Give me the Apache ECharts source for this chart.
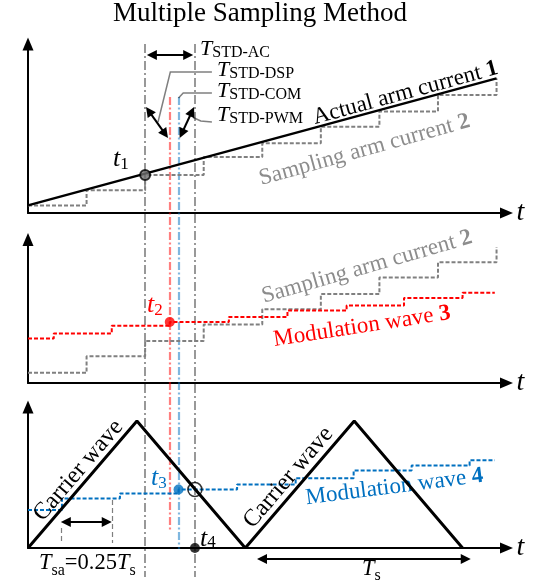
<!DOCTYPE html>
<html>
<head>
<meta charset="utf-8">
<script src="https://cdn.jsdelivr.net/npm/echarts@6/dist/echarts.min.js"></script>
<style>
  html, body { margin: 0; padding: 0; background: #fff; }
  #chart { width: 546px; height: 585px; }
</style>
</head>
<body>
<div id="chart"></div>
<script>
// ---- signal data (time in units of the sampling period Tsa, amplitude in p.u. of the carrier peak) ----
const sampleTimes = [0, 1, 2, 3, 4, 5, 6, 7, 8];
const actualTimes = [0, 8];
const actualCurrent = [0.06, 1.06];
const sampledCurrentTop = [0.06, 0.18, 0.30, 0.44, 0.55, 0.68, 0.80, 0.93, 1.06];
const sampledCurrentMid = [0.08, 0.21, 0.33, 0.46, 0.58, 0.70, 0.83, 0.95, 1.07];
const modulation3Times = [0, 0.44, 1.43, 2.42, 3.43, 4.43, 5.44, 6.42, 7.42, 7.97];
const modulation3 = [0.35, 0.39, 0.45, 0.48, 0.52, 0.57, 0.61, 0.67, 0.71, 0.71];
const carrierTimes = [0, 1.86, 3.71, 5.57, 7.42];
const carrier = [0, 1, 0, 1, 0];
const modulation4Times = [0, 0.58, 1.57, 2.57, 3.57, 4.57, 5.56, 6.55, 7.54, 7.97];
const modulation4 = [0.30, 0.39, 0.43, 0.46, 0.50, 0.55, 0.61, 0.65, 0.69, 0.69];

// characteristic instants
const t1 = 2.0;    // sampling instant
const t2 = 2.42;   // DSP result ready
const t3 = 2.57;   // communication done
const t4 = 2.85;   // PWM comparison
const tsaStart = 0.56, tsaEnd = 1.43;   // Tsa span marker
const tsStart = 3.91, tsEnd = 7.56;     // Ts span marker

// ---- layout ----
const FONT = '"Liberation Serif", "Times New Roman", serif';
const BLACK = '#000000', GREY = '#808080', GREY_TXT = '#8c8c8c', RED = '#ff0000', BLUE = '#0070c0';
const LEFT = 28, WIDTH = 478.5, X_MAX = 8.17;
const PX_PER_UNIT = 127;
const PX_X = WIDTH / X_MAX;
const panels = [
  { top: 44, height: 169 },
  { top: 239.5, height: 143.5 },
  { top: 407, height: 141 }
];

const pair = (xs, ys) => xs.map((x, i) => [x, ys[i]]);
const valueAt = (xs, ys, x) => ys[xs.indexOf(x)];

const axisArrow = {
  show: true,
  symbol: ['none', 'triangle'],
  symbolSize: [11, 13],
  lineStyle: { color: BLACK, width: 2 }
};

const grids = panels.map(p => ({ left: LEFT, width: WIDTH, top: p.top, height: p.height }));
grids.push({ left: LEFT, width: WIDTH, top: 0, height: 585 }); // annotation overlay

const xAxes = panels.map((p, i) => ({
  type: 'value', gridIndex: i, min: 0, max: X_MAX,
  axisLine: axisArrow, axisTick: { show: false }, axisLabel: { show: false }, splitLine: { show: false },
  name: 't', nameLocation: 'end', nameGap: 10,
  nameTextStyle: { fontFamily: FONT, fontStyle: 'italic', fontSize: 28, color: BLACK }
}));
xAxes.push({ type: 'value', gridIndex: 3, min: 0, max: X_MAX, show: false });

const yAxes = panels.map((p, i) => ({
  type: 'value', gridIndex: i, min: 0, max: p.height / PX_PER_UNIT,
  axisLine: axisArrow, axisTick: { show: false }, axisLabel: { show: false }, splitLine: { show: false }
}));
yAxes.push({ type: 'value', gridIndex: 3, min: 0, max: 585, inverse: true, show: false });

// pull both ends of a segment in so the arrow tips land on the given points
function arrowSegment(a, b, insetPx) {
  const ax = a[0] * PX_X, ay = a[1], bx = b[0] * PX_X, by = b[1];
  const len = Math.hypot(bx - ax, by - ay);
  const ux = (bx - ax) / len, uy = (by - ay) / len;
  return [[(ax + ux * insetPx) / PX_X, ay + uy * insetPx], [(bx - ux * insetPx) / PX_X, by - uy * insetPx]];
}

const dashDotBlack = [9, 3, 2, 3];
const dashDotColor = [8, 2.5, 2, 2.5];
const stepDash = [4, 2];

const series = [
  // panel 1
  { type: 'line', xAxisIndex: 0, yAxisIndex: 0, data: pair(actualTimes, actualCurrent), symbol: 'none',
    lineStyle: { color: BLACK, width: 2.5 }, z: 4 },
  { type: 'line', xAxisIndex: 0, yAxisIndex: 0, step: 'end', data: pair(sampleTimes, sampledCurrentTop), symbol: 'none',
    lineStyle: { color: GREY, width: 2, type: stepDash }, z: 3 },
  { type: 'scatter', xAxisIndex: 0, yAxisIndex: 0, data: [[t1, valueAt(sampleTimes, sampledCurrentTop, t1)]],
    symbolSize: 10, itemStyle: { color: '#707070', borderColor: BLACK, borderWidth: 2 }, z: 6 },
  // panel 2
  { type: 'line', xAxisIndex: 1, yAxisIndex: 1, step: 'end', data: pair(sampleTimes, sampledCurrentMid), symbol: 'none',
    lineStyle: { color: GREY, width: 2, type: stepDash }, z: 3 },
  { type: 'line', xAxisIndex: 1, yAxisIndex: 1, step: 'end', data: pair(modulation3Times, modulation3), symbol: 'none',
    lineStyle: { color: RED, width: 2, type: stepDash }, z: 3 },
  { type: 'scatter', xAxisIndex: 1, yAxisIndex: 1, data: [[t2, valueAt(modulation3Times, modulation3, t2)]],
    symbolSize: 10, itemStyle: { color: RED }, z: 6 },
  // panel 3
  { type: 'line', xAxisIndex: 2, yAxisIndex: 2, data: pair(carrierTimes, carrier), symbol: 'none',
    lineStyle: { color: BLACK, width: 3 }, z: 4 },
  { type: 'line', xAxisIndex: 2, yAxisIndex: 2, step: 'end', data: pair(modulation4Times, modulation4), symbol: 'none',
    lineStyle: { color: BLUE, width: 2, type: stepDash }, z: 3 },
  { type: 'scatter', xAxisIndex: 2, yAxisIndex: 2, data: [[t3, valueAt(modulation4Times, modulation4, t3)]],
    symbolSize: 10, itemStyle: { color: BLUE }, z: 6 },
  { type: 'scatter', xAxisIndex: 2, yAxisIndex: 2, data: [[t4, valueAt(modulation4Times, modulation4, t3)]],
    symbolSize: 14, itemStyle: { color: 'rgba(0,0,0,0)', borderColor: BLACK, borderWidth: 1.5 }, z: 6 },
  { type: 'scatter', xAxisIndex: 2, yAxisIndex: 2, data: [[t4, 0]],
    symbolSize: 10, itemStyle: { color: BLACK }, z: 6 },
  // timing guides across all panels
  { type: 'lines', coordinateSystem: 'cartesian2d', xAxisIndex: 3, yAxisIndex: 3, symbol: 'none', z: 1,
    data: [
      { coords: [[t1, 44], [t1, 577]], lineStyle: { color: BLACK, width: 1.6, type: dashDotBlack } },
      { coords: [[t4, 44], [t4, 577]], lineStyle: { color: BLACK, width: 1.6, type: dashDotBlack } },
      { coords: [[t2, 97], [t2, 530]], lineStyle: { color: RED, width: 2.2, type: dashDotColor } },
      { coords: [[t3, 97], [t3, 549]], lineStyle: { color: BLUE, width: 2.2, type: dashDotColor } },
      { coords: [[tsaStart, 528], [tsaStart, 543]], lineStyle: { color: BLACK, width: 1.2, type: [5, 3] } },
      { coords: [[tsaEnd, 500], [tsaEnd, 543]], lineStyle: { color: BLACK, width: 1.2, type: [5, 3] } }
    ] },
  // leader lines to the delay labels
  { type: 'lines', coordinateSystem: 'cartesian2d', xAxisIndex: 3, yAxisIndex: 3, polyline: true, symbol: 'none', z: 5,
    lineStyle: { color: BLACK, width: 1.5 },
    data: [
      { coords: [[(t1 + t2) / 2 + 0.01, 122], [t2 + 0.01, 72], [3.14, 72]] },
      { coords: [[t3, 98], [t3 + 0.08, 93], [3.14, 93]] },
      { coords: [[t4 - 0.03, 117.5], [t4 + 0.1, 121], [3.14, 122]] }
    ] },
  // double-headed span arrows
  { type: 'lines', coordinateSystem: 'cartesian2d', xAxisIndex: 3, yAxisIndex: 3,
    symbol: ['triangle', 'triangle'], symbolSize: 10, z: 5,
    lineStyle: { color: BLACK, width: 2, opacity: 1 },
    data: [
      { coords: arrowSegment([t1 + 0.03, 55], [t4 - 0.03, 55], 5) },
      { coords: arrowSegment([t1 + 0.015, 107], [t2 - 0.03, 138], 5) },
      { coords: arrowSegment([t3 + 0.02, 138], [t4 - 0.015, 107], 5) },
      { coords: arrowSegment([tsaStart, 522], [tsaEnd, 522], 5) },
      { coords: arrowSegment([tsStart, 559], [tsEnd, 559], 5) }
    ] }
];

function text(x, y, str, opts) {
  return Object.assign({
    type: 'text', x: x, y: y, z: 100,
    style: Object.assign({ text: str, fontFamily: FONT, fontSize: 23, fill: BLACK, align: 'center', verticalAlign: 'middle' }, opts.style || {})
  }, opts.el || {});
}
const deg = d => d * Math.PI / 180;
const subRich = (color, size, sub, pad) => ({
  i: { fontFamily: FONT, fontStyle: 'italic', fontSize: size, fill: color },
  n: { fontFamily: FONT, fontSize: size, fill: color },
  s: { fontFamily: FONT, fontSize: sub, fill: color, padding: [pad, 0, 0, 0] }
});
const boldRich = color => ({
  b: { fontFamily: FONT, fontSize: 23, fontWeight: 'bold', fill: color }
});

const graphics = [
  text(260, 14, 'Multiple Sampling Method', { style: { fontSize: 27 } }),
  text(200, 49, '{i|T}{s|STD-AC}', { style: { align: 'left', rich: subRich(BLACK, 22, 16, 7) } }),
  text(217, 70, '{i|T}{s|STD-DSP}', { style: { align: 'left', rich: subRich(BLACK, 22, 16, 7) } }),
  text(217, 91, '{i|T}{s|STD-COM}', { style: { align: 'left', rich: subRich(BLACK, 22, 16, 7) } }),
  text(217, 115, '{i|T}{s|STD-PWM}', { style: { align: 'left', rich: subRich(BLACK, 22, 16, 7) } }),
  text(405.5, 93, 'Actual arm current {b|1}', { style: { rich: boldRich(BLACK) }, el: { rotation: deg(15.3) } }),
  text(364.5, 150, 'Sampling arm current {b|2}', { style: { fill: GREY_TXT, rich: boldRich(GREY_TXT) }, el: { rotation: deg(15.6) } }),
  text(367, 267, 'Sampling arm current {b|2}', { style: { fill: GREY_TXT, rich: boldRich(GREY_TXT) }, el: { rotation: deg(16) } }),
  text(362, 326.5, 'Modulation wave {b|3}', { style: { fill: RED, rich: boldRich(RED) }, el: { rotation: deg(8.7) } }),
  text(394.5, 487, 'Modulation wave {b|4}', { style: { fill: BLUE, rich: boldRich(BLUE) }, el: { rotation: deg(7.2), z: 1 } }),
  text(78.5, 470.5, 'Carrier wave', { style: { fontSize: 24 }, el: { rotation: deg(49.5) } }),
  text(288.5, 477.5, 'Carrier wave', { style: { fontSize: 24 }, el: { rotation: deg(49.5) } }),
  text(113, 159, '{i|t}{s|1}', { style: { align: 'left', rich: subRich(BLACK, 26, 17, 12) } }),
  text(147, 305, '{i|t}{s|2}', { style: { align: 'left', rich: subRich(RED, 26, 17, 12) } }),
  text(151, 478, '{i|t}{s|3}', { style: { align: 'left', rich: subRich(BLUE, 26, 17, 12) } }),
  text(200, 539, '{i|t}{s|4}', { style: { align: 'left', rich: subRich(BLACK, 26, 17, 8) } }),
  text(39, 563, '{i|T}{s|sa}{n|=0.25}{i|T}{s|s}', { style: { align: 'left', rich: subRich(BLACK, 22.5, 16, 16) } }),
  text(362, 569, '{i|T}{s|s}', { style: { align: 'left', rich: subRich(BLACK, 22.5, 16, 14) } })
];

const chart = echarts.init(document.getElementById('chart'));
chart.setOption({
  animation: false,
  backgroundColor: '#ffffff',
  grid: grids,
  xAxis: xAxes,
  yAxis: yAxes,
  series: series,
  graphic: { elements: graphics }
});
</script>
</body>
</html>
